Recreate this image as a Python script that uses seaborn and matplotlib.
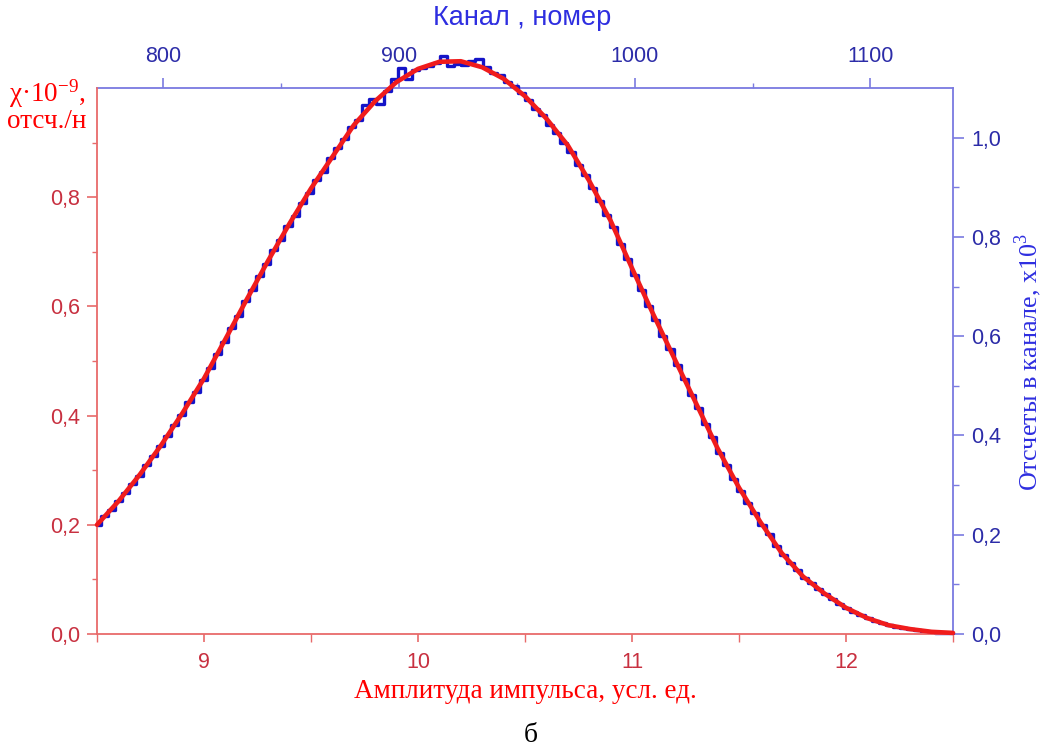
import numpy as np
import matplotlib
matplotlib.use("Agg")
import matplotlib.pyplot as plt
from matplotlib.ticker import FixedLocator, FuncFormatter
import seaborn as sns

# ---------------- data ----------------
# fitted curve (red, lower/left axes): amplitude, chi*1e-9
fit_amplitude = np.linspace(8.5, 12.5, 41)
fit_chi = [0.200, 0.243, 0.292, 0.346, 0.405, 0.468, 0.540, 0.613, 0.684, 0.752,
           0.816, 0.874, 0.932, 0.976, 1.011, 1.035, 1.048, 1.049, 1.038, 1.017,
           0.985, 0.944, 0.895, 0.830, 0.757, 0.670, 0.585, 0.503, 0.422, 0.340,
           0.268, 0.205, 0.148, 0.105, 0.074, 0.048, 0.029, 0.016, 0.009, 0.004,
           0.002]

# measured spectrum (blue, upper/right axes): channel, counts x1e3
channels = np.arange(772, 1136, 3)
counts = [0.219, 0.237, 0.250, 0.268, 0.284, 0.303, 0.319, 0.341, 0.358, 0.379,
          0.399, 0.422, 0.442, 0.467, 0.488, 0.512, 0.536, 0.565, 0.588, 0.616,
          0.641, 0.670, 0.693, 0.722, 0.745, 0.773, 0.794, 0.822, 0.842, 0.869,
          0.888, 0.914, 0.931, 0.958, 0.980, 0.997, 1.022, 1.036, 1.066, 1.078,
          1.068, 1.094, 1.118, 1.140, 1.118, 1.136, 1.140, 1.145, 1.150, 1.165,
          1.144, 1.148, 1.146, 1.155, 1.158, 1.142, 1.130, 1.126, 1.112, 1.104,
          1.090, 1.076, 1.058, 1.046, 1.026, 1.009, 0.989, 0.972, 0.944, 0.924,
          0.898, 0.873, 0.845, 0.819, 0.785, 0.756, 0.723, 0.694, 0.661, 0.633,
          0.601, 0.574, 0.541, 0.513, 0.482, 0.455, 0.423, 0.396, 0.364, 0.340,
          0.313, 0.289, 0.264, 0.243, 0.219, 0.201, 0.178, 0.160, 0.143, 0.128,
          0.112, 0.103, 0.090, 0.080, 0.070, 0.061, 0.052, 0.045, 0.038, 0.032,
          0.027, 0.022, 0.018, 0.015, 0.012, 0.010, 0.008, 0.006, 0.004, 0.003,
          0.003, 0.002]

bottom_ticks = [9, 10, 11, 12]
left_ticks = [0.0, 0.2, 0.4, 0.6, 0.8]
top_ticks = [800, 900, 1000, 1100]
right_ticks = [0.0, 0.2, 0.4, 0.6, 0.8, 1.0]

# ---------------- style ----------------
sns.set_theme(style="ticks")
plt.rcParams["font.family"] = ["Liberation Sans", "DejaVu Sans"]

RED_LINE = "#f01c1c"
RED_SPINE = "#e86a6a"
RED_TICK = "#c83040"
RED_TEXT = "#ff0000"
BLUE_LINE = "#1414c8"
BLUE_SPINE = "#7a7ae0"
BLUE_TICK = "#2c2ca8"
BLUE_TEXT = "#2e2ee0"
TICK_FS = 15.5

W, H = 1042, 749
fig = plt.figure(figsize=(W / 100, H / 100), dpi=100)
fig.patch.set_facecolor("white")
rect = [97 / W, 1 - 634 / H, (953 - 97) / W, (634 - 88) / H]

ax = fig.add_axes(rect)          # red: bottom / left
axb = fig.add_axes(rect)         # blue: top / right

comma = FuncFormatter(lambda v, p: f"{v:.1f}".replace(".", ","))

# blue data (histogram-like steps)
sns.lineplot(x=channels, y=counts, ax=axb, color=BLUE_LINE, lw=2.4,
             drawstyle="steps-mid", clip_on=False, zorder=3)
axb.set_xlim(772, 1135)
axb.set_ylim(0, 1.1)
axb.patch.set_visible(False)
axb.xaxis.tick_top()
axb.yaxis.tick_right()
for s in ["left", "bottom"]:
    axb.spines[s].set_visible(False)
for s in ["top", "right"]:
    axb.spines[s].set_visible(True)
    axb.spines[s].set_color(BLUE_SPINE)
    axb.spines[s].set_linewidth(1.3)
axb.xaxis.set_major_locator(FixedLocator(top_ticks))
axb.xaxis.set_minor_locator(FixedLocator([850, 950, 1050]))
axb.yaxis.set_major_locator(FixedLocator(right_ticks))
axb.yaxis.set_minor_locator(FixedLocator([0.1, 0.3, 0.5, 0.7, 0.9]))
axb.yaxis.set_major_formatter(comma)
axb.tick_params(axis="x", which="major", direction="out", length=7, width=1.2,
                color=BLUE_SPINE, labelcolor=BLUE_TICK, labelsize=TICK_FS, pad=8,
                top=True, bottom=False, labeltop=True, labelbottom=False)
axb.tick_params(axis="x", which="minor", direction="out", length=3.5, width=1.0,
                color=BLUE_SPINE, top=True, bottom=False)
axb.tick_params(axis="y", which="major", direction="out", length=8, width=1.2,
                color=BLUE_SPINE, labelcolor=BLUE_TICK, labelsize=TICK_FS, pad=5,
                right=True, left=False, labelright=True, labelleft=False)
axb.tick_params(axis="y", which="minor", direction="out", length=4, width=1.0,
                color=BLUE_SPINE, right=True, left=False)
axb.set_xlabel("")
axb.set_ylabel("")

# red fit
sns.lineplot(x=fit_amplitude, y=fit_chi, ax=ax, color=RED_LINE, lw=3.3,
             clip_on=False, zorder=4)
ax.set_zorder(axb.get_zorder() + 1)
ax.patch.set_visible(False)
ax.set_xlim(8.5, 12.5)
ax.set_ylim(0, 1.0)
for s in ["top", "right"]:
    ax.spines[s].set_visible(False)
for s in ["left", "bottom"]:
    ax.spines[s].set_visible(True)
    ax.spines[s].set_color(RED_SPINE)
    ax.spines[s].set_linewidth(1.3)
ax.xaxis.set_major_locator(FixedLocator(bottom_ticks))
ax.xaxis.set_minor_locator(FixedLocator([8.5, 9.5, 10.5, 11.5, 12.5]))
ax.yaxis.set_major_locator(FixedLocator(left_ticks))
ax.yaxis.set_minor_locator(FixedLocator([0.1, 0.3, 0.5, 0.7, 0.9]))
ax.yaxis.set_major_formatter(comma)
ax.tick_params(axis="x", which="major", direction="out", length=6, width=1.2,
               color=RED_SPINE, labelcolor=RED_TICK, labelsize=TICK_FS, pad=7,
               bottom=True, top=False)
ax.tick_params(axis="x", which="minor", direction="out", length=6, width=1.0,
               color=RED_SPINE, bottom=True, top=False)
ax.tick_params(axis="y", which="major", direction="out", length=7, width=1.2,
               color=RED_SPINE, labelcolor=RED_TICK, labelsize=TICK_FS, pad=5,
               left=True, right=False)
ax.tick_params(axis="y", which="minor", direction="out", length=3.5, width=1.0,
               color=RED_SPINE, left=True, right=False)
ax.set_xlabel("")
ax.set_ylabel("")

# ---------------- texts ----------------
def ftext(x, y, s, **kw):
    fig.text(x / W, 1 - y / H, s, **kw)

serif = ["Liberation Serif", "DejaVu Serif"]
ftext(522, 18, "Канал , номер", ha="center", va="center", color=BLUE_TEXT,
      fontsize=19.5, family=["Liberation Sans", "DejaVu Sans"])
ftext(47, 94, "$\\mathregular{χ·10^{-9}}$,", ha="center", va="center",
      color=RED_TEXT, fontsize=19.5, family=serif)
ftext(47, 121, "отсч./н", ha="center", va="center", color=RED_TEXT,
      fontsize=19.5, family=serif)
ftext(525, 692, "Амплитуда импульса, усл. ед.", ha="center", va="center",
      color=RED_TEXT, fontsize=19.5, family=serif)
ftext(531, 735, "б", ha="center", va="center", color="black", fontsize=20,
      family=serif)
ftext(1028, 362, "Отсчеты в канале, x10$^{\\mathregular{3}}$", ha="center",
      va="center", rotation=90, color=BLUE_TEXT, fontsize=18.8, family=serif)

fig.savefig("out.png", dpi=100, facecolor="white")
